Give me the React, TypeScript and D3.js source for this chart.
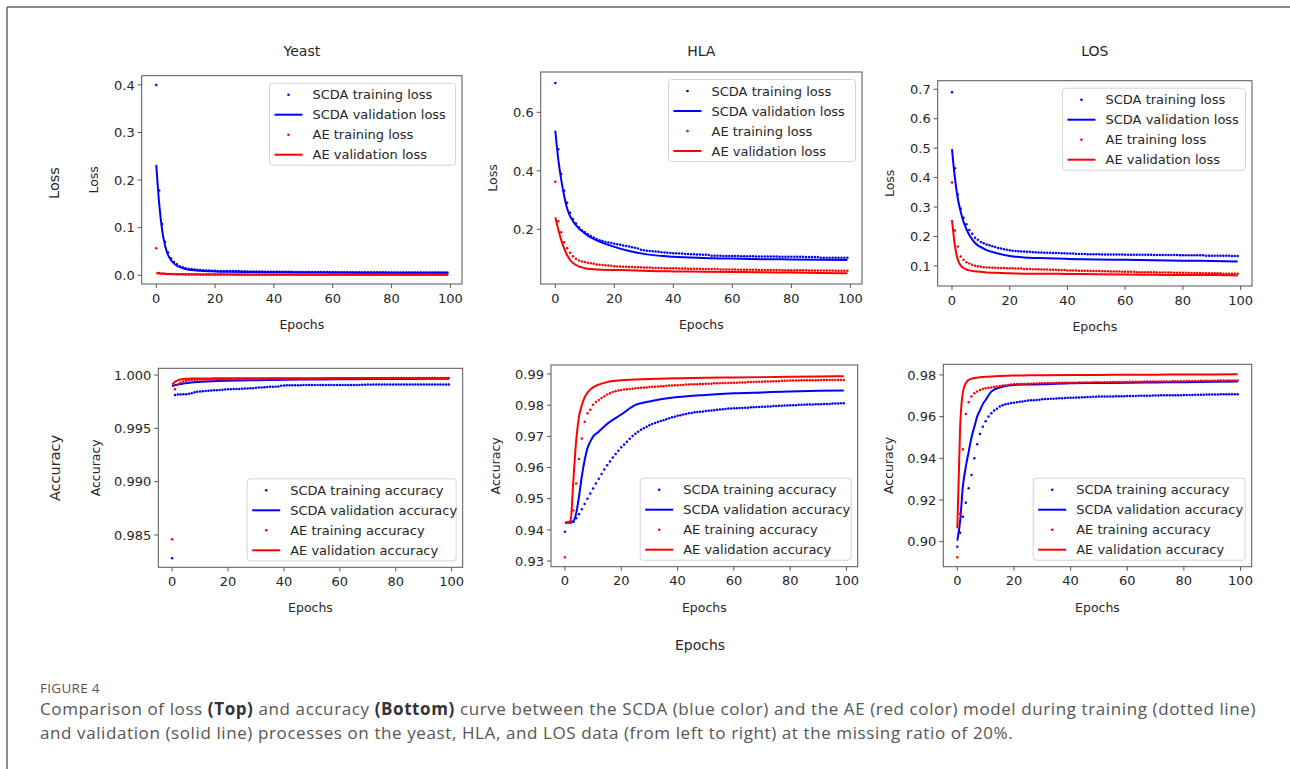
import React from "react";
import * as d3 from "d3";

// ---------------- DATA ----------------
const EPOCHS = d3.range(100);
const VAL_EPOCHS = [0, 1, 2, 3, 4, 5, 6, 7, 8, 9, 10, 12, 15, 20, 25, 30, 40, 50, 60, 70, 80, 90, 99];
const X_TICKS = [0, 20, 40, 60, 80, 100];
const DATASETS = ["Yeast", "HLA", "LOS"];
const LOSS_LABELS = ["SCDA training loss", "SCDA validation loss", "AE training loss", "AE validation loss"];
const ACC_LABELS = ["SCDA training accuracy", "SCDA validation accuracy", "AE training accuracy", "AE validation accuracy"];

// Yeast loss
const yeastLossScdaTrain = [0.400,0.178,0.108,0.070,0.048,0.036,0.028,0.023,0.019,0.017,
 0.015,0.014,0.013,0.012,0.0115,0.011,0.0105,0.010,0.0098,0.0095,
 0.0093,0.0092,0.0091,0.0090,0.0090,0.0089,0.0089,0.0088,0.0088,0.0087,
 0.0087,0.0080,0.0079,0.0078,0.0078,0.0077,0.0077,0.0076,0.0076,0.0075,
 0.0075,0.0074,0.0074,0.0073,0.0073,0.0072,0.0072,0.0071,0.0071,0.0070,
 0.0070,0.0069,0.0069,0.0068,0.0068,0.0068,0.0067,0.0067,0.0067,0.0066,
 0.0066,0.0066,0.0065,0.0065,0.0065,0.0065,0.0064,0.0064,0.0064,0.0064,
 0.0063,0.0063,0.0063,0.0063,0.0062,0.0062,0.0062,0.0062,0.0062,0.0061,
 0.0061,0.0061,0.0061,0.0061,0.0060,0.0060,0.0060,0.0060,0.0060,0.0060,
 0.0059,0.0059,0.0059,0.0059,0.0059,0.0058,0.0058,0.0058,0.0058,0.0058];
const yeastLossScdaVal = [0.232,0.150,0.095,0.062,0.043,0.032,0.025,0.020,0.017,0.015,0.013,0.011,0.0095,0.0082,0.0075,0.0070,0.0064,0.0060,0.0057,0.0055,0.0053,0.0052,0.0051];
const yeastLossAeTrain = [0.057,0.0050,0.0036,0.0031,0.0028,0.0026,0.0025,0.0024,0.0023,0.0022,
 0.0021,0.0021,0.0020,0.0020,0.0020,0.0019,0.0019,0.0019,0.0018,0.0018,
 0.0018,0.0018,0.0017,0.0017,0.0017,0.0017,0.0017,0.0016,0.0016,0.0016,
 0.0016,0.0016,0.0016,0.0015,0.0015,0.0015,0.0015,0.0015,0.0015,0.0015,
 0.0014,0.0014,0.0014,0.0014,0.0014,0.0014,0.0014,0.0014,0.0013,0.0013,
 0.0013,0.0013,0.0013,0.0013,0.0013,0.0013,0.0013,0.0012,0.0012,0.0012,
 0.0012,0.0012,0.0012,0.0012,0.0012,0.0012,0.0012,0.0011,0.0011,0.0011,
 0.0011,0.0011,0.0011,0.0011,0.0011,0.0011,0.0011,0.0011,0.0010,0.0010,
 0.0010,0.0010,0.0010,0.0010,0.0010,0.0010,0.0010,0.0010,0.0010,0.0010,
 0.0010,0.0009,0.0009,0.0009,0.0009,0.0009,0.0009,0.0009,0.0009,0.0009];
const yeastLossAeVal = [0.0050,0.0040,0.0034,0.0030,0.0027,0.0025,0.0023,0.0022,0.0021,0.0020,0.0019,0.0018,0.0017,0.0015,0.0014,0.0013,0.0012,0.0011,0.0011,0.0010,0.0010,0.0010,0.0009];

// HLA loss
const hlaLossScdaTrain = [0.700,0.474,0.389,0.332,0.291,0.257,0.235,0.220,0.207,0.197,
 0.190,0.183,0.177,0.172,0.167,0.163,0.160,0.157,0.155,0.153,
 0.151,0.149,0.147,0.145,0.143,0.141,0.139,0.137,0.134,0.130,
 0.128,0.127,0.126,0.125,0.124,0.123,0.122,0.121,0.120,0.119,
 0.118,0.118,0.117,0.117,0.116,0.116,0.115,0.115,0.114,0.114,
 0.113,0.113,0.112,0.110,0.110,0.110,0.110,0.109,0.109,0.109,
 0.109,0.109,0.109,0.108,0.108,0.108,0.108,0.108,0.107,0.107,
 0.107,0.107,0.107,0.107,0.107,0.107,0.106,0.106,0.106,0.106,
 0.106,0.106,0.106,0.106,0.106,0.105,0.105,0.105,0.105,0.105,
 0.103,0.103,0.103,0.103,0.103,0.103,0.103,0.103,0.103,0.103];
const hlaLossScdaVal = [0.537,0.440,0.370,0.315,0.272,0.245,0.228,0.214,0.203,0.194,0.186,0.172,0.158,0.140,0.126,0.116,0.106,0.102,0.100,0.098,0.097,0.096,0.095];
const hlaLossAeTrain = [0.363,0.228,0.190,0.156,0.135,0.120,0.108,0.099,0.093,0.090,
 0.088,0.086,0.084,0.082,0.080,0.079,0.078,0.077,0.076,0.075,
 0.074,0.073,0.073,0.072,0.072,0.071,0.071,0.070,0.070,0.070,
 0.069,0.069,0.069,0.068,0.068,0.068,0.068,0.067,0.067,0.067,
 0.067,0.067,0.066,0.066,0.066,0.065,0.065,0.065,0.065,0.065,
 0.064,0.064,0.064,0.064,0.064,0.064,0.063,0.063,0.063,0.063,
 0.063,0.063,0.062,0.062,0.062,0.062,0.062,0.062,0.062,0.061,
 0.061,0.061,0.061,0.061,0.061,0.061,0.061,0.060,0.060,0.060,
 0.060,0.060,0.060,0.060,0.060,0.060,0.059,0.059,0.059,0.059,
 0.059,0.059,0.059,0.059,0.059,0.058,0.058,0.058,0.058,0.058];
const hlaLossAeVal = [0.241,0.200,0.163,0.135,0.112,0.095,0.085,0.078,0.073,0.070,0.067,0.064,0.062,0.061,0.060,0.058,0.056,0.055,0.054,0.053,0.052,0.051,0.050];

// LOS loss
const losLossScdaTrain = [0.690,0.432,0.343,0.294,0.264,0.242,0.222,0.209,0.196,0.189,
 0.181,0.177,0.173,0.170,0.167,0.164,0.161,0.159,0.157,0.155,
 0.153,0.152,0.151,0.150,0.149,0.149,0.148,0.148,0.147,0.147,
 0.146,0.146,0.145,0.145,0.145,0.144,0.144,0.144,0.143,0.143,
 0.142,0.142,0.142,0.141,0.141,0.141,0.141,0.140,0.140,0.140,
 0.140,0.140,0.139,0.139,0.139,0.139,0.139,0.139,0.139,0.139,
 0.138,0.138,0.138,0.138,0.138,0.138,0.138,0.138,0.138,0.138,
 0.137,0.137,0.137,0.137,0.137,0.137,0.137,0.137,0.137,0.136,
 0.136,0.136,0.136,0.136,0.136,0.136,0.136,0.136,0.135,0.135,
 0.135,0.135,0.135,0.135,0.135,0.135,0.135,0.134,0.134,0.134];
const losLossScdaVal = [0.497,0.400,0.330,0.285,0.250,0.225,0.205,0.190,0.178,0.170,0.164,0.154,0.145,0.134,0.129,0.127,0.124,0.122,0.121,0.119,0.118,0.117,0.115];
const losLossAeTrain = [0.383,0.220,0.166,0.132,0.121,0.113,0.108,0.104,0.101,0.099,
 0.097,0.096,0.095,0.095,0.094,0.094,0.093,0.093,0.093,0.092,
 0.092,0.092,0.091,0.091,0.091,0.090,0.090,0.090,0.089,0.089,
 0.089,0.088,0.088,0.088,0.087,0.087,0.087,0.086,0.086,0.086,
 0.085,0.085,0.085,0.085,0.084,0.084,0.084,0.084,0.083,0.083,
 0.083,0.083,0.082,0.082,0.082,0.081,0.081,0.081,0.081,0.080,
 0.080,0.080,0.080,0.080,0.079,0.079,0.079,0.079,0.079,0.079,
 0.079,0.078,0.078,0.078,0.078,0.078,0.078,0.077,0.077,0.077,
 0.077,0.077,0.076,0.076,0.076,0.076,0.076,0.075,0.075,0.075,
 0.075,0.075,0.075,0.075,0.074,0.074,0.074,0.074,0.074,0.074];
const losLossAeVal = [0.256,0.170,0.122,0.102,0.093,0.088,0.085,0.083,0.082,0.081,0.080,0.078,0.077,0.075,0.074,0.074,0.073,0.072,0.071,0.070,0.069,0.069,0.068];

// Yeast accuracy
const yeastAccScdaTrain = [0.98281,0.99813,0.99818,0.99818,0.99820,0.99820,0.99825,0.99830,0.99838,0.99842,
 0.99845,0.99847,0.99850,0.99852,0.99855,0.99857,0.99858,0.99860,0.99862,0.99864,
 0.99866,0.99867,0.99868,0.99869,0.99870,0.99872,0.99873,0.99874,0.99875,0.99876,
 0.99880,0.99882,0.99884,0.99886,0.99888,0.99889,0.99890,0.99891,0.99892,0.99900,
 0.99902,0.99903,0.99904,0.99904,0.99905,0.99905,0.99905,0.99906,0.99906,0.99906,
 0.99906,0.99906,0.99906,0.99906,0.99906,0.99907,0.99907,0.99907,0.99907,0.99907,
 0.99907,0.99907,0.99907,0.99907,0.99907,0.99907,0.99907,0.99907,0.99908,0.99908,
 0.99910,0.99908,0.99910,0.99910,0.99910,0.99910,0.99910,0.99910,0.99910,0.99910,
 0.99910,0.99910,0.99910,0.99910,0.99910,0.99910,0.99910,0.99910,0.99910,0.99910,
 0.99910,0.99910,0.99910,0.99910,0.99910,0.99910,0.99910,0.99910,0.99910,0.99910];
const yeastAccScdaVal = [0.99895,0.99905,0.99910,0.99915,0.99920,0.99924,0.99927,0.99930,0.99932,0.99934,0.99936,0.99939,0.99942,0.99946,0.99949,0.99951,0.99955,0.99958,0.99960,0.99962,0.99963,0.99964,0.99965];
const yeastAccAeTrain = [0.98460,0.99866,0.99909,0.99928,0.99940,0.99947,0.99950,0.99953,0.99955,0.99956,
 0.99957,0.99958,0.99958,0.99959,0.99959,0.99960,0.99960,0.99960,0.99961,0.99961,
 0.99961,0.99961,0.99962,0.99962,0.99962,0.99962,0.99962,0.99962,0.99963,0.99963,
 0.99963,0.99963,0.99963,0.99963,0.99964,0.99964,0.99964,0.99964,0.99964,0.99964,
 0.99965,0.99965,0.99965,0.99965,0.99965,0.99965,0.99965,0.99966,0.99966,0.99966,
 0.99966,0.99966,0.99966,0.99966,0.99967,0.99967,0.99967,0.99967,0.99967,0.99967,
 0.99967,0.99968,0.99968,0.99968,0.99968,0.99968,0.99968,0.99968,0.99969,0.99969,
 0.99969,0.99969,0.99969,0.99969,0.99970,0.99970,0.99970,0.99970,0.99971,0.99971,
 0.99971,0.99971,0.99971,0.99971,0.99971,0.99972,0.99972,0.99972,0.99972,0.99972,
 0.99972,0.99972,0.99972,0.99972,0.99972,0.99973,0.99973,0.99973,0.99973,0.99973];
const yeastAccAeVal = [0.99910,0.99935,0.99950,0.99958,0.99963,0.99965,0.99966,0.99967,0.99967,0.99968,0.99968,0.99968,0.99969,0.99969,0.99969,0.99970,0.99970,0.99970,0.99971,0.99971,0.99971,0.99972,0.99972];

// HLA accuracy
const hlaAccScdaTrain = [0.9394,0.9423,0.9423,0.9425,0.9437,0.9450,0.9466,0.9483,0.9500,0.9517,
 0.9533,0.9549,0.9564,0.9579,0.9594,0.9607,0.9619,0.9632,0.9643,0.9654,
 0.9665,0.9674,0.9683,0.9692,0.9701,0.9708,0.9715,0.9721,0.9726,0.9731,
 0.9736,0.9740,0.9743,0.9746,0.9749,0.9752,0.9755,0.9758,0.9761,0.9763,
 0.9766,0.9768,0.9770,0.9772,0.9774,0.9775,0.9777,0.9778,0.9779,0.9780,
 0.9781,0.9782,0.9783,0.9784,0.9785,0.9786,0.9787,0.9788,0.9789,0.9789,
 0.9790,0.9790,0.9791,0.9791,0.9792,0.9792,0.9793,0.9793,0.9794,0.9794,
 0.9795,0.9795,0.9796,0.9796,0.9797,0.9797,0.9798,0.9798,0.9799,0.9799,
 0.9800,0.9800,0.9800,0.9801,0.9801,0.9801,0.9802,0.9802,0.9802,0.9803,
 0.9803,0.9803,0.9804,0.9804,0.9804,0.9805,0.9805,0.9805,0.9806,0.9806];
const hlaAccScdaVal = [0.9423,0.9424,0.9425,0.9428,0.9453,0.9507,0.9572,0.9624,0.9662,0.9683,0.9699,0.9715,0.9740,0.9770,0.9801,0.9812,0.9826,0.9833,0.9838,0.9841,0.9844,0.9846,0.9847];
const hlaAccAeTrain = [0.9312,0.9423,0.9426,0.9462,0.9549,0.9627,0.9693,0.9747,0.9774,0.9785,
 0.9801,0.9810,0.9817,0.9823,0.9829,0.9834,0.9838,0.9842,0.9845,0.9847,
 0.9849,0.9850,0.9851,0.9852,0.9853,0.9854,0.9855,0.9856,0.9857,0.9857,
 0.9858,0.9859,0.9859,0.9860,0.9861,0.9861,0.9862,0.9863,0.9863,0.9864,
 0.9864,0.9865,0.9865,0.9866,0.9866,0.9867,0.9867,0.9867,0.9868,0.9868,
 0.9869,0.9869,0.9869,0.9870,0.9870,0.9870,0.9871,0.9871,0.9871,0.9872,
 0.9872,0.9872,0.9873,0.9873,0.9873,0.9874,0.9874,0.9874,0.9875,0.9875,
 0.9875,0.9876,0.9876,0.9876,0.9877,0.9877,0.9877,0.9878,0.9878,0.9878,
 0.9879,0.9879,0.9879,0.9879,0.9880,0.9880,0.9880,0.9880,0.9880,0.9880,
 0.9880,0.9881,0.9881,0.9881,0.9881,0.9881,0.9881,0.9881,0.9881,0.9881];
const hlaAccAeVal = [0.9423,0.9424,0.9430,0.9560,0.9688,0.9763,0.9800,0.9825,0.9840,0.9850,0.9857,0.9866,0.9874,0.9880,0.9882,0.9884,0.9886,0.9888,0.9889,0.9890,0.9891,0.9892,0.9893];

// LOS accuracy
const losAccScdaTrain = [0.8976,0.9043,0.9120,0.9187,0.9256,0.9320,0.9400,0.9467,0.9517,0.9552,
 0.9578,0.9600,0.9616,0.9629,0.9638,0.9648,0.9654,0.9659,0.9662,0.9665,
 0.9667,0.9669,0.9671,0.9673,0.9675,0.9677,0.9678,0.9679,0.9680,0.9681,
 0.9683,0.9684,0.9685,0.9686,0.9686,0.9687,0.9688,0.9688,0.9689,0.9690,
 0.9691,0.9691,0.9692,0.9692,0.9693,0.9693,0.9694,0.9694,0.9695,0.9695,
 0.9696,0.9696,0.9696,0.9697,0.9697,0.9697,0.9698,0.9698,0.9698,0.9698,
 0.9699,0.9699,0.9699,0.9699,0.9700,0.9700,0.9700,0.9700,0.9700,0.9701,
 0.9701,0.9701,0.9702,0.9702,0.9702,0.9702,0.9703,0.9703,0.9703,0.9703,
 0.9704,0.9704,0.9704,0.9704,0.9705,0.9705,0.9705,0.9705,0.9706,0.9706,
 0.9706,0.9706,0.9706,0.9707,0.9707,0.9707,0.9707,0.9707,0.9707,0.9707];
const losAccScdaVal = [0.9005,0.9100,0.9270,0.9360,0.9430,0.9500,0.9550,0.9600,0.9630,0.9660,0.9680,0.9720,0.9740,0.9752,0.9754,0.9755,0.9760,0.9761,0.9762,0.9764,0.9765,0.9767,0.9768];
const losAccAeTrain = [0.8925,0.9134,0.9443,0.9613,0.9669,0.9696,0.9712,0.9720,0.9728,0.9732,
 0.9736,0.9738,0.9740,0.9742,0.9745,0.9747,0.9749,0.9751,0.9752,0.9754,
 0.9755,0.9756,0.9756,0.9757,0.9757,0.9758,0.9758,0.9759,0.9759,0.9760,
 0.9760,0.9760,0.9761,0.9761,0.9761,0.9762,0.9762,0.9762,0.9762,0.9763,
 0.9763,0.9763,0.9763,0.9764,0.9764,0.9764,0.9764,0.9764,0.9765,0.9765,
 0.9765,0.9765,0.9765,0.9765,0.9766,0.9766,0.9766,0.9766,0.9766,0.9766,
 0.9766,0.9767,0.9767,0.9767,0.9767,0.9767,0.9768,0.9768,0.9768,0.9768,
 0.9768,0.9769,0.9769,0.9769,0.9769,0.9769,0.9770,0.9770,0.9770,0.9770,
 0.9770,0.9771,0.9771,0.9771,0.9771,0.9771,0.9772,0.9772,0.9772,0.9772,
 0.9772,0.9772,0.9773,0.9773,0.9773,0.9773,0.9773,0.9773,0.9773,0.9773];
const losAccAeVal = [0.9064,0.9550,0.9720,0.9760,0.9776,0.9782,0.9785,0.9787,0.9789,0.9790,0.9791,0.9793,0.9795,0.9797,0.9798,0.9799,0.9800,0.9800,0.9801,0.9801,0.9802,0.9802,0.9803];

// Tick values
const YEAST_LOSS_TICKS = [0, 0.1, 0.2, 0.3, 0.4];
const HLA_LOSS_TICKS = [0.2, 0.4, 0.6];
const LOS_LOSS_TICKS = [0.1, 0.2, 0.3, 0.4, 0.5, 0.6, 0.7];
const YEAST_ACC_TICKS = [0.985, 0.99, 0.995, 1.0];
const HLA_ACC_TICKS = [0.93, 0.94, 0.95, 0.96, 0.97, 0.98, 0.99];
const LOS_ACC_TICKS = [0.9, 0.92, 0.94, 0.96, 0.98];

// ---------------- LAYOUT ----------------
const FONT = "'DejaVu Sans', sans-serif";
const TXT = "#262626";
const BLUE = "#0000ff";
const RED = "#ff0000";

type PanelCfg = {
  box: [number, number, number, number];
  yDomain: [number, number];
  yTicks: number[];
  yFmt: string;
  scdaTrain: number[]; scdaVal: number[]; aeTrain: number[]; aeVal: number[];
  labels: string[];
  legendPos: "ur" | "lr";
  legendW: number;
  yLabel: string;
  yLabelX: number;
  title?: string;
};

const PANELS: PanelCfg[] = [
  { box: [141.7, 75.7, 462, 284], yDomain: [-0.0183, 0.4193], yTicks: YEAST_LOSS_TICKS, yFmt: ".1f",
    scdaTrain: yeastLossScdaTrain, scdaVal: yeastLossScdaVal, aeTrain: yeastLossAeTrain, aeVal: yeastLossAeVal,
    labels: LOSS_LABELS, legendPos: "ur", legendW: 186, yLabel: "Loss", yLabelX: 93, title: DATASETS[0] },
  { box: [540.7, 72, 862, 284], yDomain: [0.013, 0.738], yTicks: HLA_LOSS_TICKS, yFmt: ".1f",
    scdaTrain: hlaLossScdaTrain, scdaVal: hlaLossScdaVal, aeTrain: hlaLossAeTrain, aeVal: hlaLossAeVal,
    labels: LOSS_LABELS, legendPos: "ur", legendW: 187, yLabel: "Loss", yLabelX: 492.7, title: DATASETS[1] },
  { box: [937.7, 80.7, 1252, 286], yDomain: [0.032, 0.729], yTicks: LOS_LOSS_TICKS, yFmt: ".1f",
    scdaTrain: losLossScdaTrain, scdaVal: losLossScdaVal, aeTrain: losLossAeTrain, aeVal: losLossAeVal,
    labels: LOSS_LABELS, legendPos: "ur", legendW: 183, yLabel: "Loss", yLabelX: 889, title: DATASETS[2] },
  { box: [158.3, 368.3, 462.7, 567.3], yDomain: [0.98197, 1.00063], yTicks: YEAST_ACC_TICKS, yFmt: ".3f",
    scdaTrain: yeastAccScdaTrain, scdaVal: yeastAccScdaVal, aeTrain: yeastAccAeTrain, aeVal: yeastAccAeVal,
    labels: ACC_LABELS, legendPos: "lr", legendW: 209, yLabel: "Accuracy", yLabelX: 95 },
  { box: [551, 365, 857.7, 566.7], yDomain: [0.92818, 0.99289], yTicks: HLA_ACC_TICKS, yFmt: ".2f",
    scdaTrain: hlaAccScdaTrain, scdaVal: hlaAccScdaVal, aeTrain: hlaAccAeTrain, aeVal: hlaAccAeVal,
    labels: ACC_LABELS, legendPos: "lr", legendW: 211, yLabel: "Accuracy", yLabelX: 495 },
  { box: [943.3, 364.3, 1251.7, 566.7], yDomain: [0.888, 0.9851], yTicks: LOS_ACC_TICKS, yFmt: ".2f",
    scdaTrain: losAccScdaTrain, scdaVal: losAccScdaVal, aeTrain: losAccAeTrain, aeVal: losAccAeVal,
    labels: ACC_LABELS, legendPos: "lr", legendW: 212, yLabel: "Accuracy", yLabelX: 888.3 },
];

function Panel({ cfg }: { cfg: PanelCfg }) {
  const [x0, y0, x1, y1] = cfg.box;
  const x = d3.scaleLinear().domain([-4.95, 103.95]).range([x0, x1]);
  const y = d3.scaleLinear().domain(cfg.yDomain).range([y1, y0]);
  const fmt = d3.format(cfg.yFmt);
  const line = d3.line<number>()
    .x((_, i) => x(VAL_EPOCHS[i]))
    .y((d) => y(d))
    .curve(d3.curveMonotoneX);
  const cx = (x0 + x1) / 2;
  const cy = (y0 + y1) / 2;
  const lh = 82;
  const lw = cfg.legendW;
  const lx = x1 - 6.5 - lw;
  const ly = cfg.legendPos === "ur" ? y0 + 7.5 : y1 - 6.5 - lh;
  const entries = [
    { kind: "dot", color: BLUE },
    { kind: "line", color: BLUE },
    { kind: "dot", color: RED },
    { kind: "line", color: RED },
  ];
  const clipId = `clip-${Math.round(x0)}-${Math.round(y0)}`;
  return (
    <g>
      {cfg.title && (
        <text x={cx} y={55.5} textAnchor="middle" fontSize={14} fill={TXT} fontFamily={FONT}>{cfg.title}</text>
      )}
      <defs>
        <clipPath id={clipId}>
          <rect x={x0} y={y0} width={x1 - x0} height={y1 - y0} />
        </clipPath>
      </defs>
      <g clipPath={`url(#${clipId})`}>
        <path d={line(cfg.scdaVal) || ""} fill="none" stroke={BLUE} strokeWidth={2} />
        <path d={line(cfg.aeVal) || ""} fill="none" stroke={RED} strokeWidth={2} />
        {cfg.scdaTrain.map((v, i) => (
          <circle key={`s${i}`} cx={x(EPOCHS[i])} cy={y(v)} r={1.25} fill={BLUE} />
        ))}
        {cfg.aeTrain.map((v, i) => (
          <circle key={`a${i}`} cx={x(EPOCHS[i])} cy={y(v)} r={1.25} fill={RED} />
        ))}
      </g>
      <rect x={x0} y={y0} width={x1 - x0} height={y1 - y0} fill="none" stroke="#555" strokeWidth={1} />
      {X_TICKS.map((t) => (
        <g key={`xt${t}`}>
          <line x1={x(t)} x2={x(t)} y1={y1} y2={y1 + 4} stroke="#555" />
          <text x={x(t)} y={y1 + 18.5} textAnchor="middle" fontSize={13} fill={TXT} fontFamily={FONT}>{t}</text>
        </g>
      ))}
      {cfg.yTicks.map((t) => (
        <g key={`yt${t}`}>
          <line x1={x0 - 4} x2={x0} y1={y(t)} y2={y(t)} stroke="#555" />
          <text x={x0 - 7} y={y(t)} dy="0.36em" textAnchor="end" fontSize={13} fill={TXT} fontFamily={FONT}>{fmt(t)}</text>
        </g>
      ))}
      <text x={cx} y={y1 + 45} textAnchor="middle" fontSize={12.5} fill={TXT} fontFamily={FONT}>Epochs</text>
      <text transform={`translate(${cfg.yLabelX},${cy}) rotate(-90)`} textAnchor="middle" dy="0.36em" fontSize={12.5} fill={TXT} fontFamily={FONT}>{cfg.yLabel}</text>
      <g>
        <rect x={lx} y={ly} width={lw} height={lh} rx={3} fill="#fff" fillOpacity={0.85} stroke="#d4d4d4" />
        {entries.map((e, i) => {
          const ry = ly + 11.5 + i * 20;
          return (
            <g key={`lg${i}`}>
              {e.kind === "dot" ? (
                <circle cx={lx + 19} cy={ry} r={1.3} fill={e.color} />
              ) : (
                <line x1={lx + 5} x2={lx + 33} y1={ry} y2={ry} stroke={e.color} strokeWidth={2} />
              )}
              <text x={lx + 43} y={ry} dy="0.36em" fontSize={13} fill={TXT} fontFamily={FONT}>{cfg.labels[i]}</text>
            </g>
          );
        })}
      </g>
    </g>
  );
}

export default function App() {
  const capFont = "'Open Sans', 'Noto Sans', sans-serif";
  return (
    <svg width={1290} height={769} style={{ position: "absolute", left: 0, top: 0, background: "#fff" }}>
      <rect x={0} y={0} width={1290} height={769} fill="#fff" />
      <line x1={7} x2={1290} y1={7} y2={7} stroke="#666" strokeWidth={1.5} />
      <line x1={7} x2={7} y1={7} y2={769} stroke="#666" strokeWidth={1.5} />
      {PANELS.map((p, i) => <Panel key={i} cfg={p} />)}
      <text x={54} y={183} transform="rotate(-90 54 183)" textAnchor="middle" dy="0.36em" fontSize={14.5} fill={TXT} fontFamily={FONT}>Loss</text>
      <text x={55} y={468} transform="rotate(-90 55 468)" textAnchor="middle" dy="0.36em" fontSize={14.5} fill={TXT} fontFamily={FONT}>Accuracy</text>
      <text x={700} y={650} textAnchor="middle" fontSize={14} fill={TXT} fontFamily={FONT}>Epochs</text>
      <text x={40} y={692.5} fontSize={13.5} fill="#555" fontFamily={capFont} letterSpacing={0.3}>FIGURE 4</text>
      <text x={40} y={715} fontSize={17} fill="#555" fontFamily={capFont} letterSpacing={0.6}>
        Comparison of loss <tspan fontWeight="bold" fill="#333">(Top)</tspan> and accuracy <tspan fontWeight="bold" fill="#333">(Bottom)</tspan> curve between the SCDA (blue color) and the AE (red color) model during training (dotted line)
      </text>
      <text x={40} y={739} fontSize={17} fill="#555" fontFamily={capFont} letterSpacing={0.6}>
        and validation (solid line) processes on the yeast, HLA, and LOS data (from left to right) at the missing ratio of 20%.
      </text>
    </svg>
  );
}
